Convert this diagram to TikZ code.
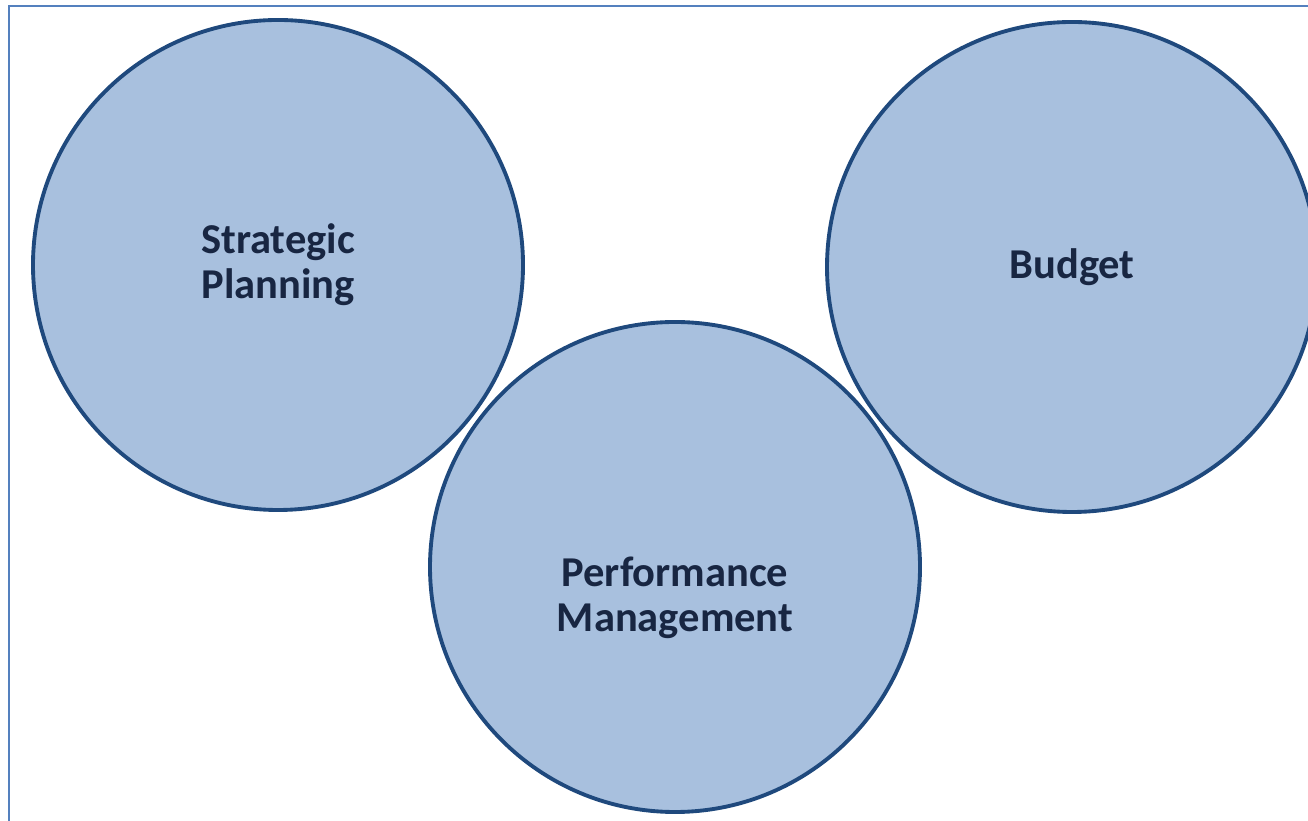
\documentclass[tikz,border=0pt]{standalone}
\usepackage{fontspec}
\setmainfont{Carlito}
\usepackage{tikz}
\usetikzlibrary{positioning}
\definecolor{fillblue}{RGB}{168,192,222}
\definecolor{edgeblue}{RGB}{31,73,125}
\definecolor{textblue}{RGB}{24,38,66}
\definecolor{framblue}{RGB}{84,128,190}
\tikzset{%
  topic/.style={draw=edgeblue, line width=2.2pt, fill=fillblue, circle,
    inner sep=0pt, minimum size=9.8cm},% main circles
  label/.style={font=\fontsize{24.2}{25.5}\selectfont\bfseries, text=textblue,
    align=center},% circle texts
  frame/.style={draw=framblue, line width=1pt}% outer frame
}

\begin{document}
\begin{tikzpicture}
\useasboundingbox (0,0) rectangle (26.16,16.4);
\clip (0,0) rectangle (26.16,16.4);
\coordinate (fl) at (0.18,-1);
\coordinate (fr) at (27,16.28);
\draw[frame] (fl) rectangle (fr);

\node[topic] (plan) at (5.56,11.1) {};
\node[topic] (budget) at (21.44,11.06) {};
\node[topic] (perf) at (13.5,5.06) {};

\node[label] (plantext) at (plan) {Strategic\\Planning};
\node[label] (budgettext) at (budget) {Budget};
\node[label, yshift=-0.62cm] (perftext) at (perf) {Performance\\Management};
\end{tikzpicture}
\end{document}
